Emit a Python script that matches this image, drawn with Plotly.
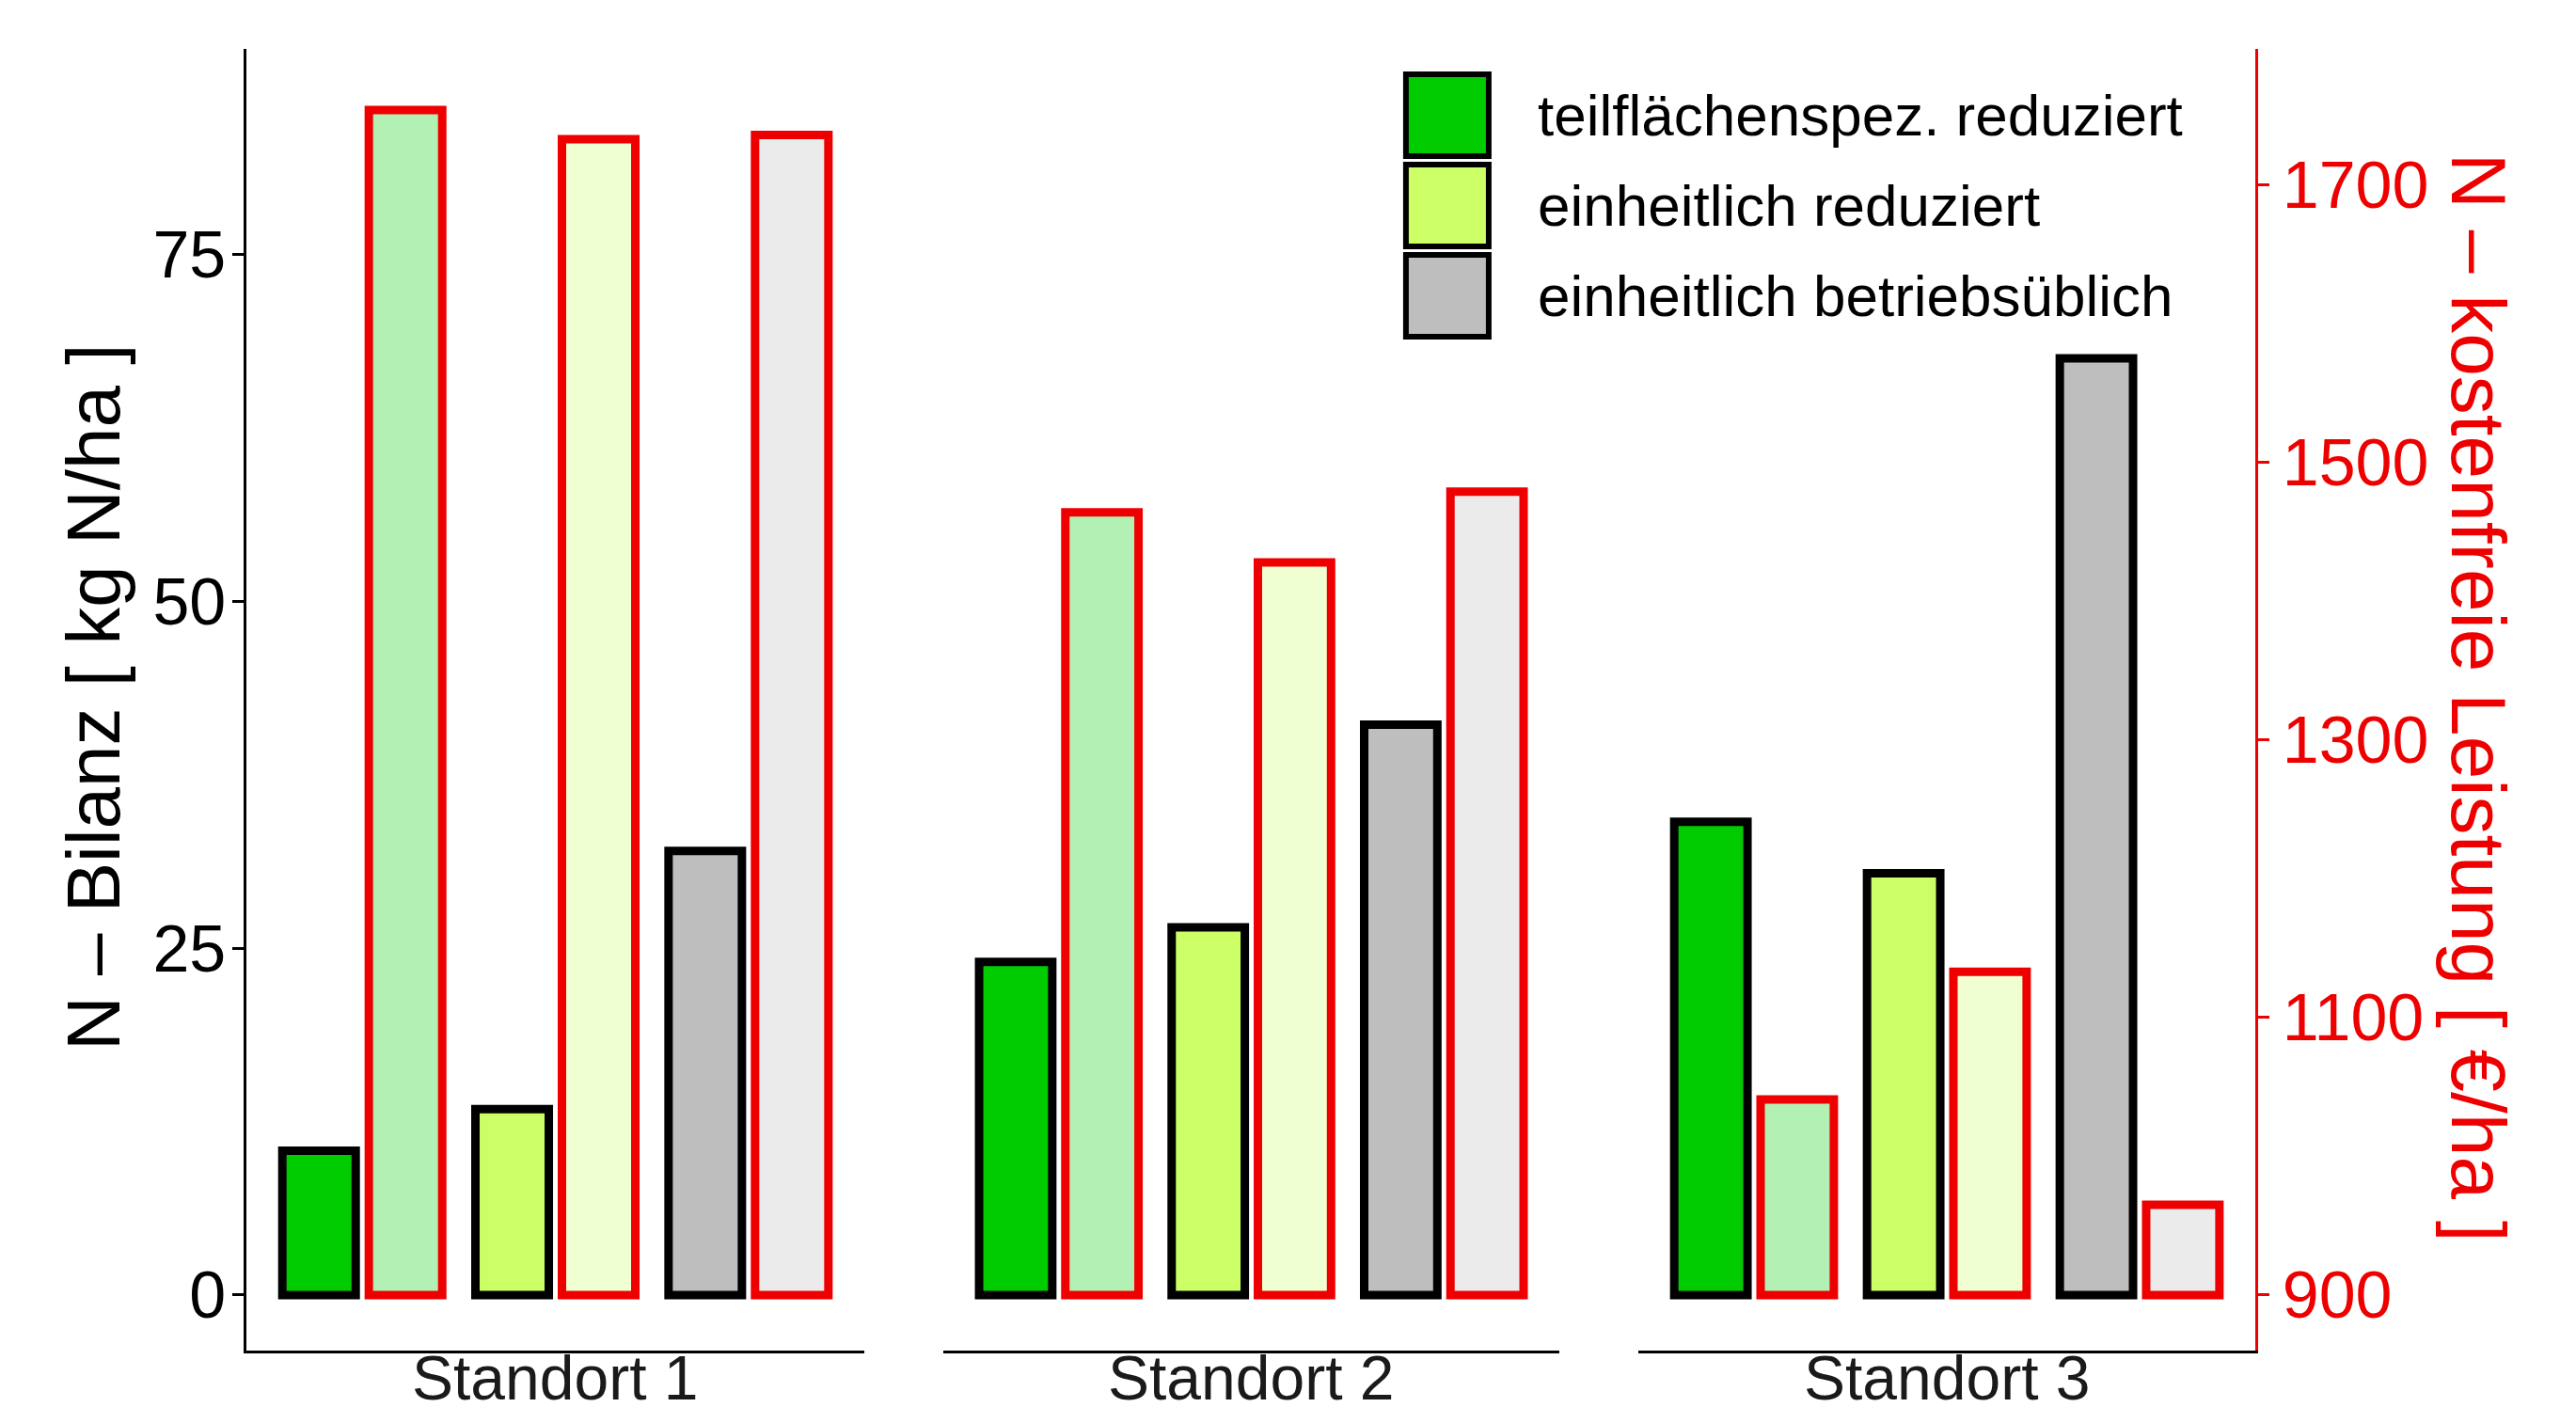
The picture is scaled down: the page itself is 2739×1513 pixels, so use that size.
import plotly.graph_objects as go

# ---------------- data ----------------
standorte = ["Standort 1", "Standort 2", "Standort 3"]
methods = ["teilflächenspez. reduziert", "einheitlich reduziert", "einheitlich betriebsüblich"]
n_bilanz = {
    "Standort 1": [10.4, 13.4, 32.0],
    "Standort 2": [24.0, 26.5, 41.1],
    "Standort 3": [34.1, 30.4, 67.5],
}
leistung = {
    "Standort 1": [1754, 1733, 1736],
    "Standort 2": [1464, 1428, 1479],
    "Standort 3": [1041, 1133, 965],
}
leistung_base = 900
left_ticks = [0, 25, 50, 75]
right_ticks = [900, 1100, 1300, 1500, 1700]

# ---------------- style ----------------
solid_colors = ["#00CC00", "#CCFF66", "#BEBEBE"]
light_colors = ["#B3F0B3", "#F0FFD1", "#EBEBEB"]
FONT = "Liberation Sans, Arial, sans-serif"
RED = "#EE0000"
W, H = 2723, 1497
ML, MR, MT, MB = 254, 333, 44, 69
left_range = [-4, 89.8]
right_range = [leistung_base + 10 * left_range[0], leistung_base + 10 * left_range[1]]
domains = [[0, 0.3076], [0.3469, 0.6536], [0.6929, 1.0]]
bar_w = 0.38
half_gap = 0.224
LW = 9

fig = go.Figure()
for i, s in enumerate(standorte):
    xa = "x" if i == 0 else f"x{i+1}"
    ya = "y" if i == 0 else f"y{i+1}"
    ya2 = f"y{i+4}"
    fig.add_trace(go.Bar(
        x=methods, y=n_bilanz[s], xaxis=xa, yaxis=ya,
        width=bar_w, offset=-half_gap - bar_w / 2,
        marker=dict(color=solid_colors, line=dict(color="black", width=LW)),
        showlegend=False, name="N-Bilanz"))
    fig.add_trace(go.Bar(
        x=methods, y=[v - leistung_base for v in leistung[s]], base=leistung_base,
        xaxis=xa, yaxis=ya2,
        width=bar_w, offset=half_gap - bar_w / 2,
        marker=dict(color=light_colors, line=dict(color=RED, width=LW)),
        showlegend=False, name="N-kostenfreie Leistung"))

layout = dict(
    width=W, height=H, barmode="overlay",
    plot_bgcolor="white", paper_bgcolor="white",
    margin=dict(l=ML, r=MR, t=MT, b=MB),
    font=dict(family=FONT, color="black"),
    showlegend=False,
)
for i in range(3):
    k = "" if i == 0 else str(i + 1)
    layout[f"xaxis{k}"] = dict(
        domain=domains[i], anchor=f"y{k}", type="category",
        categoryorder="array", categoryarray=methods,
        range=[-0.6, 2.6], showticklabels=False, ticks="",
        showline=True, linecolor="black", linewidth=2.5,
        showgrid=False, zeroline=False, fixedrange=True)
    layout[f"yaxis{k}"] = dict(
        anchor=f"x{k}", range=left_range, showgrid=False, zeroline=False,
        visible=(i == 0), showline=True, linecolor="black", linewidth=2.5,
        ticks="outside", ticklen=12, tickwidth=2.5, tickcolor="black",
        ticklabelstandoff=-7,
        tickvals=left_ticks, tickfont=dict(size=70, color="black", family=FONT))
    layout[f"yaxis{i+4}"] = dict(
        anchor=f"x{k}", overlaying=f"y{k}", side="right", range=right_range,
        showgrid=False, zeroline=False, visible=(i == 2),
        showline=True, linecolor=RED, linewidth=2.5,
        ticks="outside", ticklen=12, tickwidth=2.5, tickcolor=RED,
        tickvals=right_ticks, tickfont=dict(size=70, color=RED, family=FONT))
fig.update_layout(**layout)

# axis titles & panel labels
ann = []
ann.append(dict(text="N – Bilanz [ kg N/ha ]", xref="paper", yref="paper",
                x=-0.0758, y=0.5015, xanchor="center", yanchor="middle",
                textangle=-90, showarrow=False,
                font=dict(size=80, color="black", family=FONT)))
ann.append(dict(text="N – kostenfreie Leistung [ €/ha ]", xref="paper", yref="paper",
                x=1.111, y=0.5015, xanchor="center", yanchor="middle",
                textangle=90, showarrow=False,
                font=dict(size=82, color=RED, family=FONT)))
for i, s in enumerate(standorte):
    k = "x" if i == 0 else f"x{i+1}"
    ann.append(dict(text=s, xref=f"{k} domain", yref="paper", x=0.5, y=-0.0491,
                    yanchor="bottom", showarrow=False,
                    font=dict(size=66, color="#1A1A1A", family=FONT)))

# legend (manual, large keys)
key_x0, key_x1 = 0.5772, 0.6184
key_tops = [0.9805, 0.9111, 0.8418]
key_h = 0.0629
shapes = []
for j, m in enumerate(methods):
    shapes.append(dict(type="rect", xref="paper", yref="paper",
                       x0=key_x0, x1=key_x1, y0=key_tops[j] - key_h, y1=key_tops[j],
                       fillcolor=solid_colors[j], line=dict(color="black", width=6)))
    ann.append(dict(text=m, xref="paper", yref="paper", x=0.6419,
                    y=key_tops[j] - key_h / 2, xanchor="left", yanchor="middle",
                    showarrow=False, font=dict(size=62, color="black", family=FONT)))
fig.update_layout(annotations=ann, shapes=shapes)

fig.write_html("out.html")
